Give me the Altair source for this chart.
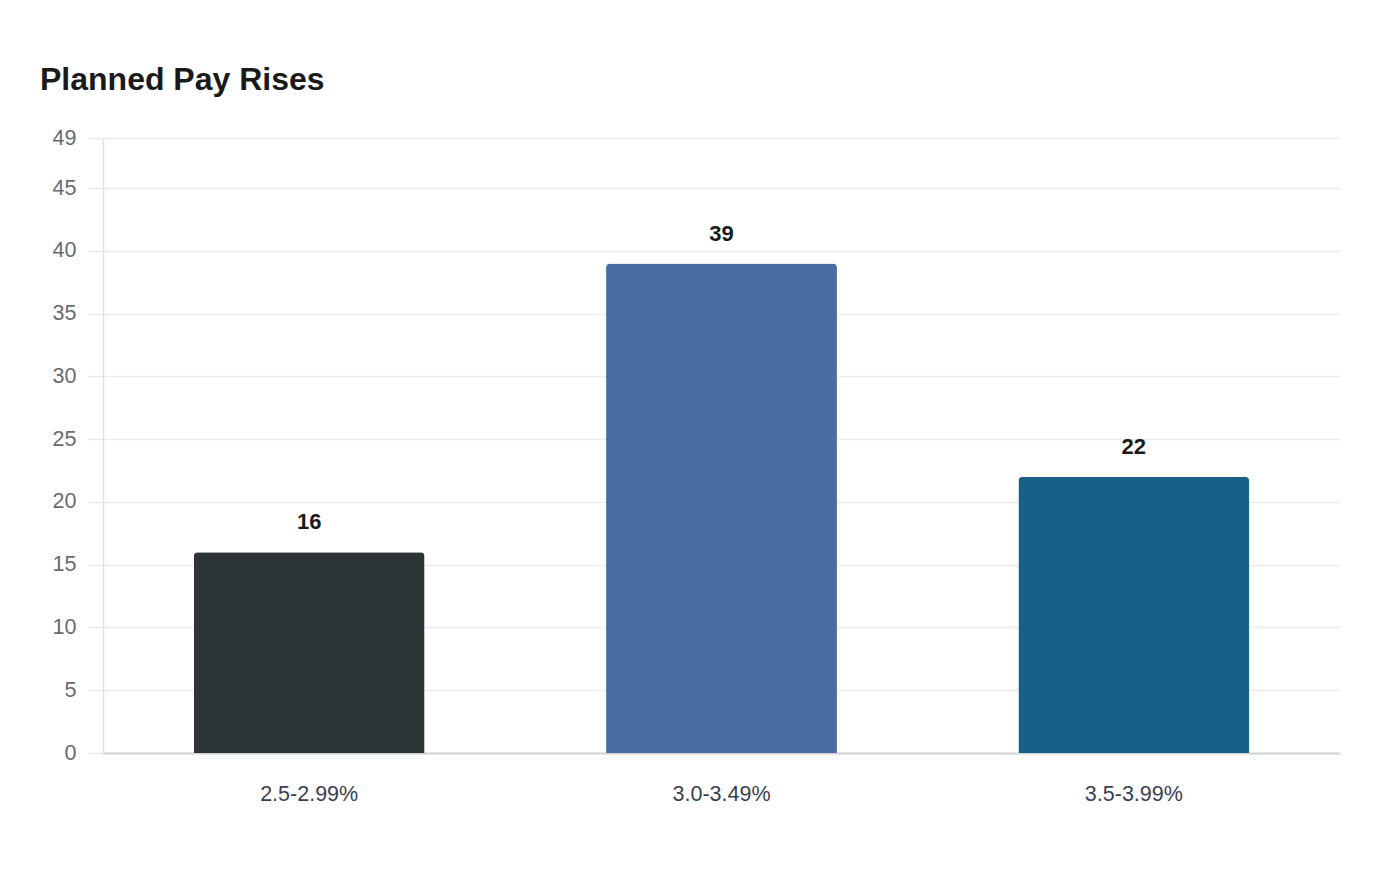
import altair as alt
import pandas as pd

categories = ["2.5-2.99%", "3.0-3.49%", "3.5-3.99%"]
values = [16, 39, 22]
colors = ["#2d3436", "#4a6ea3", "#176087"]
y_ticks = [0, 5, 10, 15, 20, 25, 30, 35, 40, 45, 49]

df = pd.DataFrame({"range": categories, "count": values, "color": colors})

FONT = "Liberation Sans"

x = alt.X("range:N", sort=categories, title=None,
          scale=alt.Scale(paddingInner=0.44, paddingOuter=0.22),
          axis=alt.Axis(labelAngle=0, labelFontSize=21.5, labelColor="#374151",
                        labelFont=FONT, ticks=False, labelPadding=30,
                        domainColor="#d4d4d4", domainWidth=2, grid=False))
y = alt.Y("count:Q", title=None,
          scale=alt.Scale(domain=[0, 49], nice=False),
          axis=alt.Axis(values=y_ticks, labelFontSize=21.5, labelColor="#666b70",
                        labelFont=FONT, tickSize=15, tickColor="#e8e8e8",
                        tickWidth=1.5, labelPadding=12, domainColor="#e2e2e2",
                        domainWidth=1.5, gridColor="#ececec", gridWidth=1.5))

bars = alt.Chart(df).mark_bar(cornerRadiusTopLeft=4, cornerRadiusTopRight=4).encode(
    x=x, y=y,
    color=alt.Color("color:N", scale=None),
)

labels = alt.Chart(df).mark_text(baseline="bottom", dy=-18, fontSize=22,
                                 fontWeight="bold", color="#1a1a1a", font=FONT).encode(
    x=alt.X("range:N", sort=categories),
    y=alt.Y("count:Q"),
    text=alt.Text("count:Q"),
)

chart = alt.layer(bars, labels).properties(
    width=1237, height=615,
    background="white",
    title=alt.TitleParams("Planned Pay Rises", anchor="start", frame="group",
                          fontSize=32, fontWeight="bold", color="#1a1a1a",
                          font=FONT, offset=30, dx=-63),
    autosize=alt.AutoSizeParams(type="none"),
    padding={"left": 95, "top": 130, "right": 52, "bottom": 119},
).configure_view(strokeWidth=0, stroke="transparent")

chart.save("out.html", embed_options={"renderer": "svg", "actions": False})
